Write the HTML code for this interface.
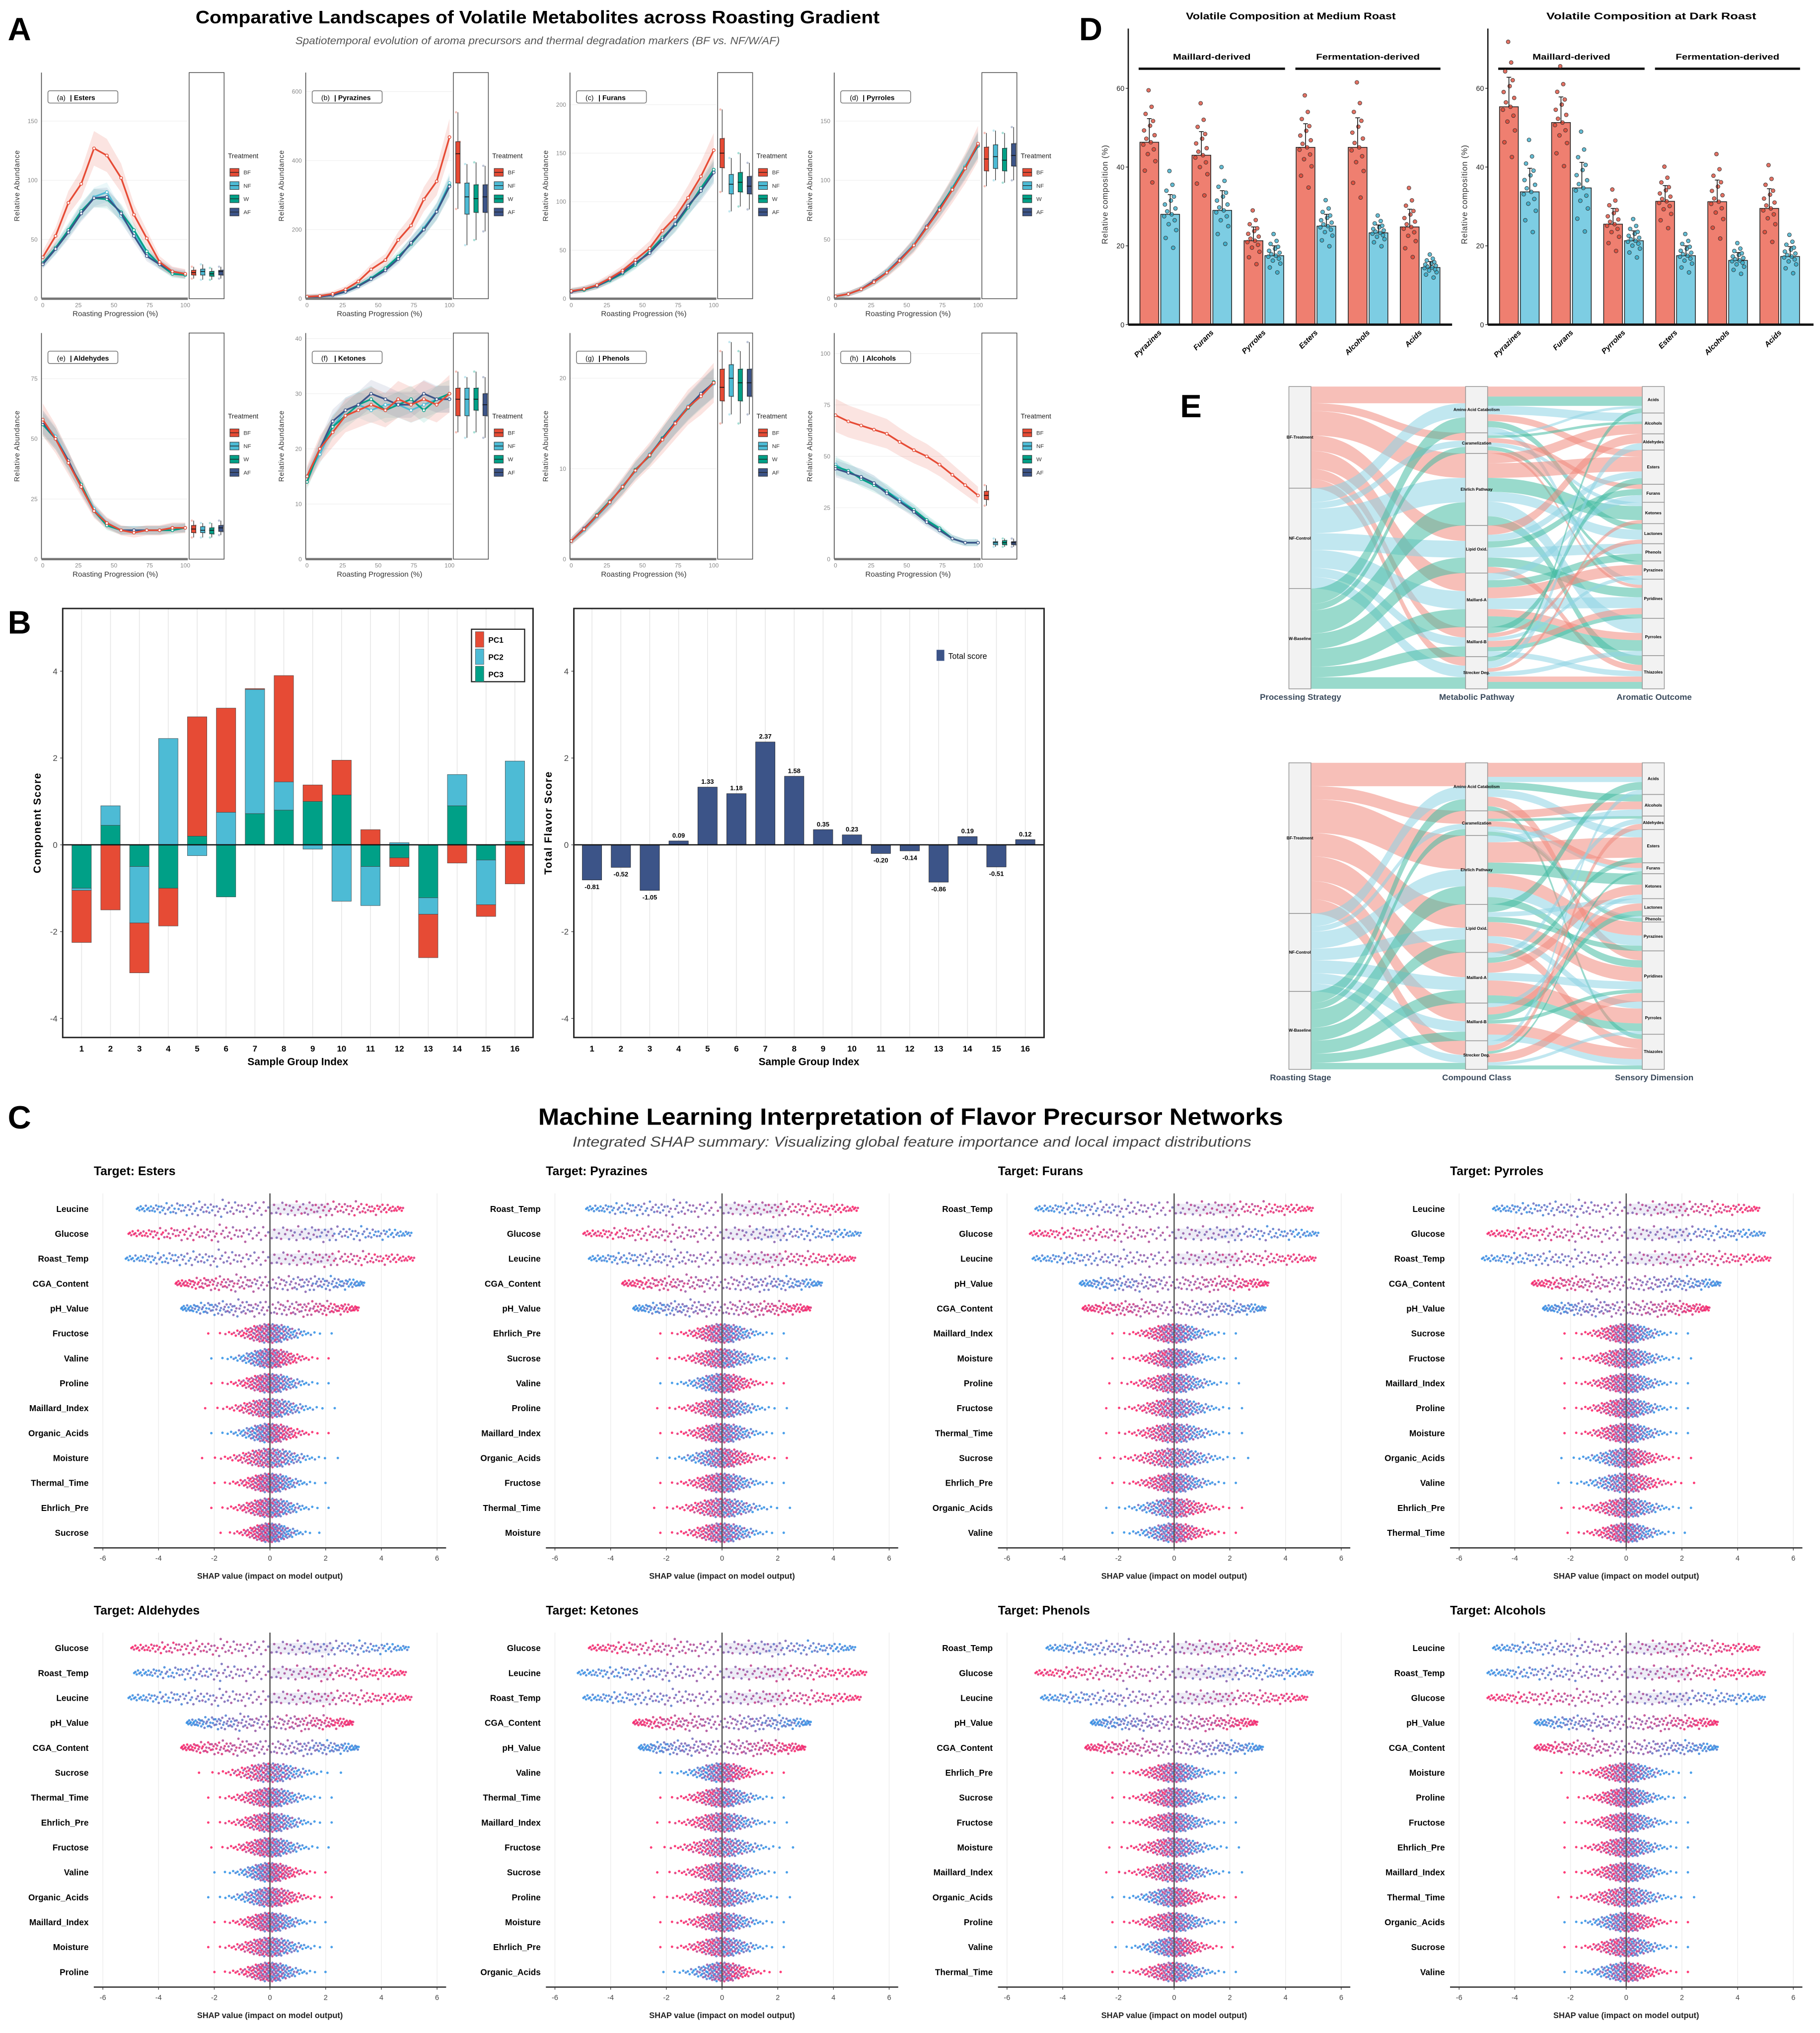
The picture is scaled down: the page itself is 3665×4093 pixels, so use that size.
<!DOCTYPE html>
<html><head><meta charset="utf-8">
<style>
html,body{margin:0;padding:0;background:#fff;}
svg{display:block;font-family:"Liberation Sans",Arial,sans-serif;}
</style></head>
<body>
<svg id="fig" width="3665" height="4093" viewBox="0 0 1405 1569" xmlns="http://www.w3.org/2000/svg">
<rect x="0" y="0" width="1405" height="1569" fill="#fff"/>
<text x="6" y="31" font-size="25" font-weight="bold">A</text>
<text x="6" y="489" font-size="25" font-weight="bold">B</text>
<text x="6" y="871" font-size="25" font-weight="bold">C</text>
<text x="833" y="31" font-size="25" font-weight="bold">D</text>
<text x="911" y="322" font-size="25" font-weight="bold">E</text>
<text x="415" y="18" font-size="14" font-weight="bold" text-anchor="middle" textLength="528" lengthAdjust="spacingAndGlyphs">Comparative Landscapes of Volatile Metabolites across Roasting Gradient</text>
<text x="415" y="34" font-size="8" font-style="italic" fill="#555" text-anchor="middle" textLength="374" lengthAdjust="spacingAndGlyphs">Spatiotemporal evolution of aroma precursors and thermal degradation markers (BF vs. NF/W/AF)</text>
<text x="703" y="868" font-size="18" font-weight="bold" text-anchor="middle" textLength="575" lengthAdjust="spacingAndGlyphs">Machine Learning Interpretation of Flavor Precursor Networks</text>
<text x="704" y="885" font-size="11" font-style="italic" fill="#444" text-anchor="middle" textLength="524" lengthAdjust="spacingAndGlyphs">Integrated SHAP summary: Visualizing global feature importance and local impact distributions</text>
</svg>
<script>
const NS='http://www.w3.org/2000/svg';
const svg=document.getElementById('fig');
function el(tag,attrs,parent){const e=document.createElementNS(NS,tag);for(const k in attrs)e.setAttribute(k,attrs[k]);(parent||svg).appendChild(e);return e;}
function nm(e,n){


return e;}
function grp(n,parent){const g=el('g',{},parent);nm(g,n);return g;}
function txt(x,y,s,attrs,parent,n){const t=el('text',Object.assign({x:x,y:y},attrs),parent);t.textContent=s;nm(t,n||'label');return t;}
function line(x1,y1,x2,y2,st,w,parent,n){const l=el('line',{x1:x1,y1:y1,x2:x2,y2:y2,stroke:st,'stroke-width':w},parent);nm(l,n||'line');return l;}

/* ================= PANEL A DATA ================= */
const aProg=[0,9,18,27,36,45,55,64,73,82,91,100];
const aNames=['Esters','Pyrazines','Furans','Pyrroles','Aldehydes','Ketones','Phenols','Alcohols'];
const aTags=['(a)','(b)','(c)','(d)','(e)','(f)','(g)','(h)'];
const aYmax=[191,655,233,191,94,41,25,110];
const aTicks=[[0,50,100,150],[0,200,400,600],[0,50,100,150,200],[0,50,100,150],[0,25,50,75],[0,10,20,30,40],[0,10,20],[0,25,50,75,100]];
const aBF=[[35,53,81,97,127,121,102,71,51,31,23,21],[6,8,14,27,50,85,112,170,212,288,340,468],[8,10,14,21,29,40,52,70,84,104,126,153],[2,4,8,14,22,32,45,60,75,92,110,131],[58,50,40,30,20,15,12,11,12,12,13,13],[15,20,23,26,27,28,27,29,28,29,28,30],[2,3.3,4.8,6.3,8,9.8,11.5,13.2,15,16.8,18,19.5],[70,67,65,63,61,57,53,50,46,41,36,31]];
const aNF=[[30,42,57,73,86,90,70,55,38,29,22,20],[5,6,10,20,38,60,85,118,160,205,255,335],[8,10,13,19,27,36,48,62,78,95,112,131],[2,4,8,14,23,33,46,61,76,94,112,131],[57,51,41,30,21,15,12,12,12,12,13,13],[15,19,24,27,28,27,28,28,27,28,29,29],[2,3.2,4.7,6.2,8.1,9.7,11.6,13.3,15.2,16.9,18.2,19.4],[46,42,40,37,33,29,24,19,14,10,8,8]];
const aW=[[30,43,58,74,85,84,73,58,40,29,21,20],[5,6,11,21,38,59,88,122,158,202,252,328],[8,9,13,19,26,35,49,63,76,94,114,133],[2,4,8,14,22,32,45,60,77,93,111,129],[56,50,40,31,20,14,12,12,12,12,12,13],[14,20,24,26,28,29,27,28,29,27,29,30],[2,3.3,4.9,6.4,7.9,9.9,11.4,13.4,15.1,16.7,18.1,19.6],[45,43,39,36,33,28,24,19,15,10,8,8]];
const aAF=[[29,42,56,72,85,86,72,53,36,29,23,21],[5,6,10,20,36,57,82,115,162,200,252,325],[7,10,13,20,27,37,47,61,77,96,111,130],[2,4,8,15,22,33,45,61,76,92,110,130],[57,50,41,30,20,15,12,12,12,12,13,13],[15,20,25,27,28,30,29,28,28,30,29,29],[2,3.4,4.8,6.3,8,9.8,11.5,13.3,15.1,16.8,18.3,19.5],[44,42,40,37,32,28,23,18,14,10,8,8]];
const aBoxBF=[[17,20,22,24,27],[260,335,420,455,540],[110,135,150,165,195],[95,108,118,128,140],[9,11,12.5,14,16],[23,26,29,31,34],[15,17.5,19,21,23],[26,29,31,33,36]];
const aBoxNF=[[16,20,23,25,29],[155,245,295,335,390],[90,108,118,128,145],[100,110,120,130,142],[9,11,12,13.5,15],[22,26,29,31,33],[16,18,20,21.5,24],[6,7,8,8.5,10]];
const aBoxW=[[16,19,21,23,26],[170,250,290,330,395],[95,110,120,130,150],[98,108,117,127,140],[9,10.5,12,13,15],[23,27,29,31,34],[15,17.5,19.5,21,23],[6,7,8,9,10]];
const aBoxAF=[[17,20,23,24,27],[195,250,295,330,385],[92,108,116,126,140],[100,112,121,131,145],[10,11.5,13,14,16],[22,26,28,30,33],[16,18,19.5,21,24],[6,7,8,8.5,10]];
const aRib=[0.1,0.07,0.07,0.07];
const aColors=['#E64B35','#4DBBD5','#00A087','#3C5488'];
const aLegend=['BF','NF','W','AF'];

(function(){
 const gA=grp('panel-a-line-charts');
 const colX=[0,204,408,612], rowY=[56,257], PH=174.5;
 for(let p=0;p<8;p++){
  const col=p%4,row=Math.floor(p/4),ox=colX[col],top=rowY[row],bot=top+PH;
  const g=grp('subplot-'+aNames[p].toLowerCase(),gA);
  const ys=v=>bot-v/aYmax[p]*PH, xs=v=>ox+33+1.1*v;
  aTicks[p].forEach(t=>{line(ox+32,ys(t),ox+145,ys(t),'#f0f0f0',0.5,g,'gridline');
   txt(ox+29,ys(t)+1.6,String(t),{'font-size':4.6,fill:'#888','text-anchor':'end'},g,'y-tick-label');});
  [0,25,50,75,100].forEach(t=>txt(xs(t),bot+6.5,String(t),{'font-size':4.6,fill:'#888','text-anchor':'middle'},g,'x-tick-label'));
  txt(ox+89,bot+13.5,'Roasting Progression (%)',{'font-size':5.8,fill:'#333','text-anchor':'middle'},g,'x-axis-title');
  txt(ox+15,(top+bot)/2,'Relative Abundance',{'font-size':5.6,fill:'#333','text-anchor':'middle','letter-spacing':0.3,transform:'rotate(-90 '+(ox+15)+' '+((top+bot)/2)+')'},g,'y-axis-title');
  const series=[aBF[p],aNF[p],aW[p],aAF[p]];
  const boxes=[aBoxBF[p],aBoxNF[p],aBoxW[p],aBoxAF[p]];
  [1,2,3,0].forEach(s=>{const d=series[s];const rf=aRib[s];
   let up=d.map((v,i)=>xs(aProg[i])+','+ys(v*(1+rf)+aYmax[p]*0.01));
   let dn=d.map((v,i)=>xs(aProg[i])+','+ys(v*(1-rf)-aYmax[p]*0.01)).reverse();
   const r=el('polygon',{points:up.concat(dn).join(' '),fill:aColors[s],opacity:s==0?0.15:0.11},g);nm(r,'ribbon-'+aLegend[s]);});
  [1,2,3,0].forEach(s=>{const d=series[s];
   const pl=el('polyline',{points:d.map((v,i)=>xs(aProg[i])+','+ys(v)).join(' '),fill:'none',stroke:aColors[s],'stroke-width':1.3},g);nm(pl,'line-'+aLegend[s]);
   d.forEach((v,i)=>{const c=el('circle',{cx:xs(aProg[i]),cy:ys(v),r:1.1,fill:'#fff',stroke:aColors[s],'stroke-width':0.55},g);nm(c,'point-'+aLegend[s]);});});
  line(ox+32,top,ox+32,bot,'#444',0.6,g,'y-axis-line');
  line(ox+32,bot,ox+145,bot,'#777',1.8,g,'x-axis-line');
  const st=el('rect',{x:ox+146,y:top,width:27,height:PH,fill:'none',stroke:'#555','stroke-width':0.6},g);nm(st,'endpoint-strip');
  boxes.forEach((b,s)=>{const cx=ox+149.5+7*s;
   [0,1,2,3,4].forEach(j=>{const c=el('circle',{cx:cx+(j%2?1.4:-1.4),cy:ys(b[j]),r:0.9,fill:aColors[s],opacity:0.35},g);nm(c,'box-jitter-point');});
   line(cx,ys(b[0]),cx,ys(b[4]),'#222',0.45,g,'box-whisker');
   const r=el('rect',{x:cx-1.7,y:ys(b[3]),width:3.4,height:Math.max(0.6,ys(b[1])-ys(b[3])),fill:aColors[s],stroke:'#222','stroke-width':0.4},g);nm(r,'box-'+aLegend[s]);
   line(cx-1.7,ys(b[2]),cx+1.7,ys(b[2]),'#111',0.6,g,'box-median');});
  const lb=el('rect',{x:ox+37,y:top+14,width:54,height:9.5,rx:1.5,fill:'#fff',stroke:'#777','stroke-width':0.6},g);nm(lb,'facet-label-box');
  txt(ox+44,top+21.2,aTags[p],{'font-size':5.4},g,'facet-tag');
  txt(ox+54,top+21.2,'| '+aNames[p],{'font-size':5.4,'font-weight':'bold'},g,'facet-name');
  txt(ox+176,top+66,'Treatment',{'font-size':5.2,fill:'#222'},g,'legend-title');
  aLegend.forEach((L,s)=>{const ky=top+74+10.2*s;
   const k=el('rect',{x:ox+177.5,y:ky,width:7,height:6,fill:aColors[s],stroke:'#333','stroke-width':0.4},g);nm(k,'legend-key-'+L);
   line(ox+177.5,ky+3,ox+184.5,ky+3,'#222',0.5,g,'legend-key-median');
   txt(ox+188,ky+4.6,L,{'font-size':4.4,fill:'#333'},g,'legend-label');});
 }
})();

/* ================= PANEL B DATA ================= */
const bIdx=[1,2,3,4,5,6,7,8,9,10,11,12,13,14,15,16];
const pc1=[-1.2,-1.5,-1.15,-0.87,2.75,2.4,0.02,2.45,0.38,0.8,0.35,-0.2,-1.0,-0.42,-0.27,-0.9];
const pc2=[-0.05,0.45,-1.3,2.45,-0.25,0.75,2.86,0.65,-0.1,-1.3,-0.9,0.05,-0.38,0.72,-1.03,1.85];
const pc3=[-1.0,0.45,-0.5,-1.0,0.2,-1.2,0.72,0.8,1.0,1.15,-0.5,-0.3,-1.22,0.9,-0.35,0.08];
const totScore=[-0.81,-0.52,-1.05,0.09,1.33,1.18,2.37,1.58,0.35,0.23,-0.20,-0.14,-0.86,0.19,-0.51,0.12];
const bTicks=[-4,-2,0,2,4];
(function(){
 const gB=grp('panel-b');
 const yB=v=>652-33.5*v;
 function frame(x0,x1,g,xs,ytitle){
  bIdx.forEach(i=>line(xs(i),470,xs(i),800,'#e6e6e6',0.6,g,'vertical-gridline'));
  bTicks.forEach(t=>{txt(x0-4,yB(t)+2.3,String(t),{'font-size':6.5,fill:'#444','text-anchor':'end'},g,'y-tick-label');line(x0-2,yB(t),x0,yB(t),'#444',0.5,g,'y-tick');});
  bIdx.forEach(i=>txt(xs(i),811.5,String(i),{'font-size':6.5,'font-weight':'bold','text-anchor':'middle'},g,'x-tick-label'));
  txt((x0+x1)/2,822,'Sample Group Index',{'font-size':8,'font-weight':'bold','text-anchor':'middle'},g,'x-axis-title');
  const tx0=x0-17;txt(tx0,635,ytitle,{'font-size':8,'font-weight':'bold','text-anchor':'middle','letter-spacing':0.6,transform:'rotate(-90 '+tx0+' 635)'},g,'y-axis-title');
 }
 const gl=grp('component-score-chart',gB);
 const xL=i=>63+(i-1)*22.3;
 frame(48.4,411.5,gl,xL,'Component Score');
 const comps=[pc3,pc2,pc1],cc=['#00A087','#4DBBD5','#E64B35'],cn=['pc3','pc2','pc1'];
 bIdx.forEach((id,i)=>{let pos=0,neg=0;
  comps.forEach((c,k)=>{const v=c[i];let a,b;if(v>=0){a=pos;b=pos+v;pos=b;}else{a=neg;b=neg+v;neg=b;}
   const r=el('rect',{x:xL(id)-7.5,y:yB(Math.max(a,b)),width:15,height:Math.abs(yB(a)-yB(b)),fill:cc[k],stroke:'#444','stroke-width':0.3},gl);nm(r,'bar-'+cn[k]+'-sample-'+id);});});
 line(48.4,652,411.5,652,'#111',1,gl,'zero-line');
 const f1=el('rect',{x:48.4,y:469.6,width:363.1,height:331.1,fill:'none',stroke:'#222','stroke-width':1.1},gl);nm(f1,'plot-frame');
 const lg=grp('legend',gl);
 const lr=el('rect',{x:364,y:485.6,width:41,height:40.5,fill:'#fff',stroke:'#222','stroke-width':0.9},lg);nm(lr,'legend-box');
 ['PC1','PC2','PC3'].forEach((n,k)=>{const col=['#E64B35','#4DBBD5','#00A087'][k];
  const r=el('rect',{x:367,y:487.5+13.3*k,width:6.5,height:12,fill:col,stroke:'#555','stroke-width':0.3},lg);nm(r,'legend-key-'+n.toLowerCase());
  txt(377,496+13.3*k,n,{'font-size':6,'font-weight':'bold'},lg,'legend-label');});
 const gr=grp('total-flavor-score-chart',gB);
 const xR=i=>457+(i-1)*22.3;
 frame(443,806,gr,xR,'Total Flavor Score');
 bIdx.forEach((id,i)=>{const v=totScore[i];
  const r=el('rect',{x:xR(id)-7.5,y:yB(Math.max(0,v)),width:15,height:Math.abs(yB(v)-yB(0)),fill:'#3C5488',stroke:'#222','stroke-width':0.3},gr);nm(r,'bar-total-sample-'+id);
  txt(xR(id),v>=0?yB(v)-2.5:yB(v)+7,v.toFixed(2),{'font-size':5,'font-weight':'bold','text-anchor':'middle'},gr,'bar-value-label');});
 line(443,652,806,652,'#111',1,gr,'zero-line');
 const f2=el('rect',{x:443,y:469.6,width:363,height:331.1,fill:'none',stroke:'#222','stroke-width':1.1},gr);nm(f2,'plot-frame');
 const k2=el('rect',{x:723,y:501.5,width:6,height:8.5,fill:'#3C5488'},gr);nm(k2,'legend-key-total');
 txt(732,508.5,'Total score',{'font-size':6.2},gr,'legend-label');
})();

/* ================= PANEL D DATA ================= */
const dCats=['Pyrazines','Furans','Pyrroles','Esters','Alcohols','Acids'];
const medBF=[46.3,43,21.3,45,45,24.8];
const medNF=[28,29,17.5,25,23.3,14.5];
const darkBF=[55.3,51.3,25.5,31.3,31.2,29.5];
const darkNF=[33.7,34.7,21.3,17.5,16.3,17.3];
const medBFsd=[6,6,3.5,6,7.5,4.5];
const medNFsd=[5,5,2.5,3,2,1.5];
const darkBFsd=[7.5,6.5,4,4,5.5,5];
const darkNFsd=[6,6.5,2.5,2.5,2,2.5];
const dTicks=[0,20,40,60];
const jz=[-1.7,-1.2,-0.8,-0.5,-0.3,-0.1,0,0.15,0.3,0.5,0.7,0.9,1.2,1.5,2.2];
const jx=[0.2,-0.3,0.4,-0.1,0.3,-0.4,0.1,-0.2,0.35,-0.35,0.05,0.25,-0.25,0.15,-0.05];
(function(){
 const gD=grp('panel-d');
 const yD=v=>250.5-v*3.04;
 const sets=[[871,1121,'Volatile Composition at Medium Roast',medBF,medNF,medBFsd,medNFsd,'medium'],[1148.6,1400,'Volatile Composition at Dark Roast',darkBF,darkNF,darkBFsd,darkNFsd,'dark']];
 sets.forEach(S=>{const [ax,ex,title,bf,nf,bsd,nsd,key]=S;const g=grp('bar-chart-'+key,gD);
  txt((ax+ex)/2+0.5,15,title,{'font-size':7.5,'font-weight':'bold','text-anchor':'middle',textLength:162,lengthAdjust:'spacingAndGlyphs'},g,'chart-title');
  line(ax+8,53,ax+121,53,'#111',1.8,g,'group-bracket');line(ax+129,53,ax+241,53,'#111',1.8,g,'group-bracket');
  txt(ax+64.5,46,'Maillard-derived',{'font-size':6.5,'font-weight':'bold','text-anchor':'middle',textLength:60,lengthAdjust:'spacingAndGlyphs'},g,'group-label');
  txt(ax+185,46,'Fermentation-derived',{'font-size':6.5,'font-weight':'bold','text-anchor':'middle',textLength:80,lengthAdjust:'spacingAndGlyphs'},g,'group-label');
  dTicks.forEach(t=>{txt(ax-3,yD(t)+2,String(t),{'font-size':5.5,'text-anchor':'end',fill:'#222'},g,'y-tick-label');line(ax-2,yD(t),ax,yD(t),'#222',0.5,g,'y-tick');});
  txt(ax-16,150,'Relative composition (%)',{'font-size':6.3,fill:'#333','text-anchor':'middle','letter-spacing':0.3,transform:'rotate(-90 '+(ax-16)+' 150)'},g,'y-axis-title');
  dCats.forEach((c,i)=>{
   [[bf,bsd,'#EF7F70','#D9412F','bf',0],[nf,nsd,'#7DCDE3','#2FA5C4','nf',16.1]].forEach(B=>{const [arr,sd,fc,dc,nmk,off]=B;
    const x=ax+9+off+40.2*i,w=14.5,v=arr[i];
    const r=el('rect',{x:x,y:yD(v),width:w,height:yD(0)-yD(v),fill:fc,stroke:'#222','stroke-width':0.6},g);nm(r,'bar-'+nmk+'-'+c.toLowerCase());
    jz.forEach((z,j)=>{const ci=el('circle',{cx:x+w/2+jx[j]*w*0.8,cy:yD(v+z*sd[i]),r:1.5,fill:dc,stroke:'#333','stroke-width':0.35,'fill-opacity':0.75},g);nm(ci,'jitter-point');});
    line(x+w/2,yD(v),x+w/2,yD(v+sd[i]),'#111',0.6,g,'error-bar');
    line(x+w/2-1.8,yD(v+sd[i]),x+w/2+1.8,yD(v+sd[i]),'#111',0.6,g,'error-bar-cap');});
   const cx=ax+26+40.2*i;
   txt(cx,257,c,{'font-size':5.8,'font-weight':'bold','font-style':'italic','text-anchor':'end',transform:'rotate(-45 '+cx+' 257)'},g,'x-tick-label');});
  line(ax,22,ax,250.5,'#111',1,g,'y-axis-line');
  line(ax,250.5,ex,250.5,'#111',1.8,g,'x-axis-line');
 });
})();

/* ================= PANEL E DATA ================= */
const eLeftNames=['BF-Treatment','NF-Control','W-Baseline'];
const eMidNames=['Amino Acid Catabolism','Caramelization','Ehrlich Pathway','Lipid Oxid.','Maillard-A','Maillard-B','Strecker Deg.'];
const eRightNames=['Acids','Alcohols','Aldehydes','Esters','Furans','Ketones','Lactones','Phenols','Pyrazines','Pyridines','Pyrroles','Thiazoles'];
const eTopFlows=[[13,6,19,12,14,8,7],[11,5,19,13,14,7,9],[12,5,18,12,14,8,9]];
const eBotFlows=[[18,10,26,18,19,14,11],[10,4,13,9,10,8,6],[9,5,14,10,10,7,5]];
const eTopTargets=[[[0,3],[4,9],[3,1],[2,11],[8,10],[9,6],[11,5]],[[1,9],[5,0],[10,6],[7,3],[9,4],[11,8],[2,10]],[[0,6],[8,1],[5,11],[9,4],[10,7],[3,9],[11,0]]];
const eBotTargets=[[[0,9],[1,4],[3,8],[9,11],[10,5],[11,6],[9,2]],[[3,0],[4,7],[8,1],[10,6],[9,2],[11,5],[0,10]],[[1,11],[7,2],[5,9],[0,8],[10,3],[6,9],[11,4]]];
const eSplit=[0.6,0.4];
const eFlowColors=['#F08A7E','#8ED3E3','#45BBA3'];
function sankey(y0,H,LM,T,titles,gname){
 const g=grp(gname);
 let tot=0;LM.forEach(r=>r.forEach(v=>tot+=v));
 const k=H/tot;
 const xL=[995,1012],xM=[1131.4,1148.4],xR=[1267.8,1284.8];
 const band=(x0,a0,b0,x1,a1,b1)=>{const xm=(x0+x1)/2;return 'M'+x0+' '+a0+'C'+xm+' '+a0+' '+xm+' '+a1+' '+x1+' '+a1+'L'+x1+' '+b1+'C'+xm+' '+b1+' '+xm+' '+b0+' '+x0+' '+b0+'Z';};
 const leftY=[];let c=y0;LM.forEach(r=>{const s=r.reduce((a,b)=>a+b,0);leftY.push([c,c+s*k]);c+=s*k;});
 const midY=[];c=y0;for(let m=0;m<7;m++){let s=0;for(let i=0;i<3;i++)s+=LM[i][m];midY.push([c,c+s*k]);c+=s*k;}
 const L2=[];for(let s=0;s<3;s++)for(let m=0;m<7;m++)for(let j=0;j<2;j++)L2.push({s:s,m:m,t:T[s][m][j],v:LM[s][m]*eSplit[j]});
 const rSum=new Array(12).fill(0);L2.forEach(l=>rSum[l.t]+=l.v);
 const rightY=[];c=y0;rSum.forEach(s=>{rightY.push([c,c+s*k]);c+=s*k;});
 const gl=grp('flows',g);
 const lc=leftY.map(a=>a[0]),mc=midY.map(a=>a[0]);
 for(let s=0;s<3;s++)for(let m=0;m<7;m++){const h=LM[s][m]*k;
  const p=el('path',{d:band(xL[1],lc[s],lc[s]+h,xM[0],mc[m],mc[m]+h),fill:eFlowColors[s],'fill-opacity':0.55},gl);nm(p,'flow-'+eLeftNames[s].toLowerCase()+'-to-'+m);
  lc[s]+=h;mc[m]+=h;}
 const mo=midY.map(a=>a[0]),rc=rightY.map(a=>a[0]);
 for(let m=0;m<7;m++){const arr=L2.filter(l=>l.m==m).sort((a,b)=>a.t-b.t||a.s-b.s);
  arr.forEach(l=>{const h=l.v*k;
   const p=el('path',{d:band(xM[1],mo[m],mo[m]+h,xR[0],rc[l.t],rc[l.t]+h),fill:eFlowColors[l.s],'fill-opacity':0.55},gl);nm(p,'flow-pathway-to-outcome');
   mo[m]+=h;rc[l.t]+=h;});}
 const node=(x,yy,name,n)=>{const r=el('rect',{x:x[0],y:yy[0],width:x[1]-x[0],height:yy[1]-yy[0],fill:'#f2f2f2',stroke:'#999','stroke-width':0.6},g);nm(r,'node-'+n);
  txt((x[0]+x[1])/2,(yy[0]+yy[1])/2+1,name,{'font-size':3.2,'font-weight':'bold','text-anchor':'middle'},g,'node-label');};
 leftY.forEach((yy,i)=>node(xL,yy,eLeftNames[i],'left-'+i));
 midY.forEach((yy,i)=>node(xM,yy,eMidNames[i],'mid-'+i));
 rightY.forEach((yy,i)=>node(xR,yy,eRightNames[i],'right-'+i));
 const ty=y0+H+8.5;
 txt(1004,ty,titles[0],{'font-size':6.5,'font-weight':'bold',fill:'#3a4a5c','text-anchor':'middle'},g,'axis-title');
 txt(1140,ty,titles[1],{'font-size':6.5,'font-weight':'bold',fill:'#3a4a5c','text-anchor':'middle'},g,'axis-title');
 txt(1277,ty,titles[2],{'font-size':6.5,'font-weight':'bold',fill:'#3a4a5c','text-anchor':'middle'},g,'axis-title');
}
sankey(298.3,233.3,eTopFlows,eTopTargets,['Processing Strategy','Metabolic Pathway','Aromatic Outcome'],'sankey-processing-strategy');
sankey(588.7,236.6,eBotFlows,eBotTargets,['Roasting Stage','Compound Class','Sensory Dimension'],'sankey-roasting-stage');

/* ================= PANEL C DATA ================= */
const cTargets=['Esters','Pyrazines','Furans','Pyrroles','Aldehydes','Ketones','Phenols','Alcohols'];
const cFeatures=[
['Leucine','Glucose','Roast_Temp','CGA_Content','pH_Value','Fructose','Valine','Proline','Maillard_Index','Organic_Acids','Moisture','Thermal_Time','Ehrlich_Pre','Sucrose'],
['Roast_Temp','Glucose','Leucine','CGA_Content','pH_Value','Ehrlich_Pre','Sucrose','Valine','Proline','Maillard_Index','Organic_Acids','Fructose','Thermal_Time','Moisture'],
['Roast_Temp','Glucose','Leucine','pH_Value','CGA_Content','Maillard_Index','Moisture','Proline','Fructose','Thermal_Time','Sucrose','Ehrlich_Pre','Organic_Acids','Valine'],
['Leucine','Glucose','Roast_Temp','CGA_Content','pH_Value','Sucrose','Fructose','Maillard_Index','Proline','Moisture','Organic_Acids','Valine','Ehrlich_Pre','Thermal_Time'],
['Glucose','Roast_Temp','Leucine','pH_Value','CGA_Content','Sucrose','Thermal_Time','Ehrlich_Pre','Fructose','Valine','Organic_Acids','Maillard_Index','Moisture','Proline'],
['Glucose','Leucine','Roast_Temp','CGA_Content','pH_Value','Valine','Thermal_Time','Maillard_Index','Fructose','Sucrose','Proline','Moisture','Ehrlich_Pre','Organic_Acids'],
['Roast_Temp','Glucose','Leucine','pH_Value','CGA_Content','Ehrlich_Pre','Sucrose','Fructose','Moisture','Maillard_Index','Organic_Acids','Proline','Valine','Thermal_Time'],
['Leucine','Roast_Temp','Glucose','pH_Value','CGA_Content','Moisture','Proline','Fructose','Ehrlich_Pre','Maillard_Index','Thermal_Time','Organic_Acids','Sucrose','Valine']];
const cSpread=[[4.8,5.1,5.2,3.4,3.2,2.0,1.9,1.9,2.1,1.9,2.2,1.8,1.9,1.6],[4.9,5.0,4.8,3.6,3.2,2.0,2.1,2.0,2.1,2.0,2.1,2.0,2.2,2.0],[5.0,5.2,5.1,3.4,3.3,2.0,2.0,2.1,2.2,2.2,2.4,2.0,2.2,2.0],[4.8,5.0,5.2,3.4,3.0,2.0,2.1,2.0,2.0,2.0,2.1,2.2,2.1,1.9],[5.0,4.9,5.1,3.0,3.2,2.3,2.0,2.0,1.9,1.8,2.0,1.8,2.0,1.8],[4.8,5.2,5.0,3.2,3.0,2.0,2.0,2.1,2.3,2.1,2.2,2.0,2.0,1.9],[4.6,5.0,4.8,3.0,3.2,2.0,2.0,2.0,2.1,2.2,2.0,2.0,1.9,2.0],[4.8,5.0,5.0,3.3,3.3,2.1,1.9,2.0,2.0,2.0,2.2,2.0,2.0,2.0]];
const cSign={Leucine:1,Glucose:-1,Roast_Temp:1,CGA_Content:-1,pH_Value:1,Fructose:-1,Valine:1,Proline:-1,Maillard_Index:-1,Organic_Acids:1,Moisture:-1,Thermal_Time:-1,Ehrlich_Pre:-1,Sucrose:-1};
const cTicks=[-6,-4,-2,0,2,4,6];
(function(){
 const gC=grp('panel-c-shap');
 function vdc(n,b){let v=0,d=1;while(n>0){d*=b;v+=(n%b)/d;n=Math.floor(n/b);}return v;}
 function col(c){c=Math.max(0,Math.min(1,c));const a=[30,136,229],b=[255,13,87];return 'rgb('+a.map((x,i)=>Math.round(x+(b[i]-x)*c)).join(',')+')';}
 for(let p=0;p<8;p++){
  const cI=p%4,rI=Math.floor(p/4);const zx=208.4+349*cI,dy=339*rI;const sx=v=>zx+21.5*v;
  const g=grp('shap-summary-'+cTargets[p].toLowerCase(),gC);
  txt(zx-136,907+dy,'Target: '+cTargets[p],{'font-size':9.5,'font-weight':'bold'},g,'chart-title');
  cTicks.forEach(t=>{if(t!==0)line(sx(t),921+dy,sx(t),1194+dy,'#eeeeee',0.6,g,'gridline');
   txt(sx(t),1204.5+dy,String(t),{'font-size':5.6,fill:'#444','text-anchor':'middle'},g,'x-tick-label');
   line(sx(t),1194.6+dy,sx(t),1196.6+dy,'#333',0.5,g,'x-tick');});
  txt(zx,1218.5+dy,'SHAP value (impact on model output)',{'font-size':6.3,'font-weight':'bold',fill:'#222','text-anchor':'middle'},g,'x-axis-title');
  const dots=grp('dots',g);
  cFeatures[p].forEach((f,r)=>{const cy=933+dy+19.23*r,S=cSpread[p][r],sg=cSign[f];
   txt(zx-140,cy+2.3,f,{'font-size':6.6,'font-weight':'bold','text-anchor':'end'},g,'feature-label');
   if(r<3){const b=el('rect',{x:zx,y:cy-4,width:21.5*S*0.45,height:8,fill:'#e6e4f2',opacity:0.7},dots);nm(b,'iqr-band');}
   const wide=r<5,N=wide?180:170;
   for(let i=0;i<N;i++){const q=(i+0.5)/N;let x,dens,c;
    if(wide){const u=2*q-1;x=S*Math.sign(u)*Math.pow(Math.abs(u),0.85);dens=(1-Math.pow(Math.abs(u),3)*0.7)*(0.6+0.8*vdc(i+1,5));
     c=0.5+0.5*sg*u*0.95+(vdc(i+1,3)-0.5)*0.35;}
    else{const sd=S/2.9;const z=Math.log(q/(1-q))*0.5513;x=z*sd;dens=Math.exp(-z*z/2.6);
     c=0.5+sg*0.3*z+(vdc(i+1,3)-0.5)*0.9;}
    const oy=(vdc(i+1,2)*2-1)*(wide?5.5:7.5)*dens;
    const ci=el('circle',{cx:sx(x),cy:cy+oy,r:0.95,fill:col(c),'fill-opacity':0.8},dots);nm(ci,'shap-dot');}
  });
  line(zx,921+dy,zx,1194.6+dy,'#555',1,g,'zero-line');
  line(zx-136,1194.6+dy,zx+136,1194.6+dy,'#333',1,g,'x-axis-line');
 }
})();
</script>
</body></html>
